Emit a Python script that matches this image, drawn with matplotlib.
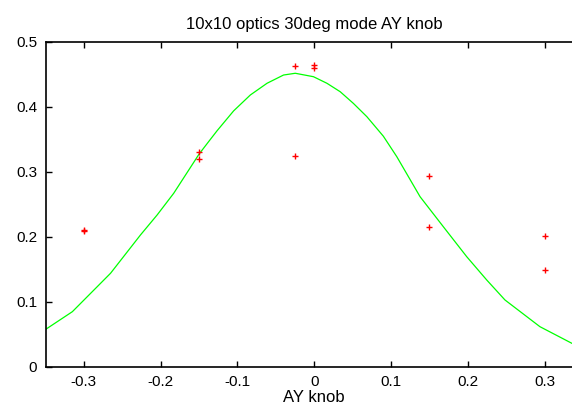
import matplotlib
matplotlib.use("Agg")
import matplotlib.pyplot as plt

plt.rcParams['font.family'] = ['Liberation Sans', 'DejaVu Sans']

# measured points (AY knob setting, signal)
knob = [-0.3, -0.3, -0.15, -0.15, -0.025, -0.025, 0.0, 0.0, 0.15, 0.15, 0.3, 0.3]
meas = [0.2085, 0.2095, 0.3302, 0.3187, 0.4630, 0.3236, 0.4645, 0.4590,
        0.2932, 0.2147, 0.2002, 0.1490]

# fitted curve
fit_x = [-0.35, -0.315, -0.2826, -0.2653, -0.2263, -0.2046, -0.183, -0.15,
         -0.137, -0.1265, -0.105, -0.0832, -0.0615, -0.040, -0.0247, -0.001,
         0.0165, 0.0338, 0.051, 0.0685, 0.09, 0.1075, 0.1378, 0.1681, 0.1986,
         0.2246, 0.2484, 0.2939, 0.3355, 0.35]
fit_y = [0.057, 0.0844, 0.1229, 0.1435, 0.2025, 0.2333, 0.2667, 0.327,
         0.347, 0.363, 0.3935, 0.418, 0.436, 0.4487, 0.4514, 0.4461,
         0.436, 0.423, 0.405, 0.3846, 0.3545, 0.323, 0.2614, 0.2152, 0.169,
         0.1332, 0.1024, 0.0613, 0.0357, 0.030]

xticks = [-0.3, -0.2, -0.1, 0, 0.1, 0.2, 0.3]
xticklabels = ['-0.3', '-0.2', '-0.1', '0', '0.1', '0.2', '0.3']
yticks = [0, 0.1, 0.2, 0.3, 0.4, 0.5]
yticklabels = ['0', '0.1', '0.2', '0.3', '0.4', '0.5']

W, H = 572, 404
fig = plt.figure(figsize=(W / 100, H / 100), dpi=100)
# the right part of the axes box runs past the picture edge (cropped)
ax = fig.add_axes([45.5 / W, (H - 366.5) / H, (583 - 45.5) / W, (366.5 - 41.7) / H])

ax.plot(fit_x, fit_y, color=(0, 1, 0), lw=0.9)
ax.plot(knob, meas, '+', color=(1, 0, 0), ms=4.5, mew=1.0)

ax.set_xlim(-0.35, 0.35)
ax.set_ylim(0, 0.5)
ax.set_xticks(xticks)
ax.set_xticklabels(xticklabels)
ax.set_yticks(yticks)
ax.set_yticklabels(yticklabels)
ax.tick_params(direction='in', length=4, width=1, top=True, right=True,
               labelsize=11, pad=6)
for s in ax.spines.values():
    s.set_linewidth(1.2)

ax.set_xlabel('AY knob', fontsize=12, labelpad=1)
ax.set_title('10x10 optics 30deg mode AY knob', fontsize=12, pad=9)

fig.savefig('out.png', dpi=100)
